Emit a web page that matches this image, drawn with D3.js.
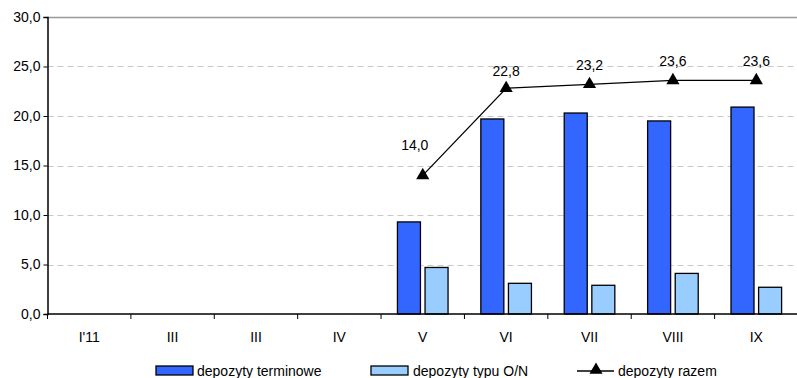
<!DOCTYPE html>
<html><head><meta charset="utf-8">
<script src="https://cdn.jsdelivr.net/npm/d3@7"></script>
<style>body{margin:0;background:#fff}svg{display:block}text{font-family:"Liberation Sans",Arial,sans-serif;fill:#000}</style>
</head><body><svg id="c" width="797" height="378"></svg>
<script>
const categories = ["I'11","III","III","IV","V","VI","VII","VIII","IX"];
const terminowe = [null,null,null,null,9.3,19.7,20.3,19.5,20.9];
const typuON = [null,null,null,null,4.7,3.1,2.9,4.1,2.7];
const razem = [null,null,null,null,14.0,22.8,23.2,23.6,23.6];
const yTicks = [0,5,10,15,20,25,30];
const seriesNames = ["depozyty terminowe","depozyty typu O/N","depozyty razem"];

const FS = 14;
const svg = d3.select("#c");
const L=47.5, R=798, T=17, B=314;
const x = d3.scaleBand().domain(d3.range(categories.length)).range([L,R]).padding(0);
const y = d3.scaleLinear().domain([0,30]).range([B,T]);
const fmt = v => d3.format(".1f")(v).replace(".",",");

// gridlines
svg.append("g").selectAll("line").data(yTicks.filter(t=>t>0)).join("line")
  .attr("x1",L).attr("x2",797).attr("y1",d=>Math.round(y(d))+0.5).attr("y2",d=>Math.round(y(d))+0.5)
  .attr("stroke",d=>d===30?"#999":"#c8c8c8").attr("stroke-width",d=>d===30?1.5:1)
  .attr("stroke-dasharray",d=>d===30?null:"6,4");

// y axis
const ya = svg.append("g").attr("transform",`translate(${L},0)`)
  .call(d3.axisLeft(y).tickValues(yTicks).tickFormat(fmt).tickSize(4).tickPadding(3));
ya.select(".domain").attr("stroke","#000").attr("stroke-width",1.5);
ya.selectAll(".tick line").attr("stroke","#000");
ya.selectAll("text").attr("font-size",FS).style("font-family","Liberation Sans, Arial, sans-serif");

// bars
const bw = 23;
const bars = svg.append("g");
bars.selectAll("rect.t").data(terminowe.map((v,i)=>({v,i})).filter(d=>d.v!=null)).join("rect")
  .attr("x",d=>x(d.i)+x.bandwidth()/2-bw-2.3).attr("width",bw)
  .attr("y",d=>y(d.v)).attr("height",d=>y(0)-y(d.v))
  .attr("fill","#3366ff").attr("stroke","#000").attr("stroke-width",1.3);
bars.selectAll("rect.o").data(typuON.map((v,i)=>({v,i})).filter(d=>d.v!=null)).join("rect")
  .attr("x",d=>x(d.i)+x.bandwidth()/2+2.3).attr("width",bw)
  .attr("y",d=>y(d.v)).attr("height",d=>y(0)-y(d.v))
  .attr("fill","#99ccff").attr("stroke","#000").attr("stroke-width",1.3);

// x axis
const xa = svg.append("g").attr("transform",`translate(0,${B})`);
xa.append("line").attr("x1",L).attr("x2",797).attr("stroke","#000").attr("stroke-width",1.5);
xa.selectAll("line.tk").data(d3.range(categories.length)).join("line")
  .attr("x1",d=>x(d)).attr("x2",d=>x(d)).attr("y1",0).attr("y2",5).attr("stroke","#000");
xa.selectAll("text").data(categories).join("text")
  .attr("x",(d,i)=>x(i)+x.bandwidth()/2).attr("y",28).attr("text-anchor","middle")
  .attr("font-size",FS).text(d=>d);

// line
const pts = razem.map((v,i)=>({v,i})).filter(d=>d.v!=null);
const cx = d => x(d.i)+x.bandwidth()/2;
svg.append("path").datum(pts)
  .attr("d",d3.line().x(cx).y(d=>y(d.v)))
  .attr("fill","none").attr("stroke","#000").attr("stroke-width",1.3);
const tri = d3.symbol().type(d3.symbolTriangle).size(75);
svg.append("g").selectAll("path").data(pts).join("path")
  .attr("transform",d=>`translate(${cx(d)},${y(d.v)})`).attr("d",tri).attr("fill","#000");
svg.append("g").selectAll("text").data(pts).join("text")
  .attr("x",d=>cx(d)+(d.i===4?-8:0))
  .attr("y",d=>y(d.v)-(d.i===4?25:(d.i===5?12:14)))
  .attr("text-anchor","middle").attr("font-size",FS).text(d=>fmt(d.v));

// legend
const lg = svg.append("g").attr("transform","translate(0,371)");
lg.append("rect").attr("x",156).attr("y",-5).attr("width",37).attr("height",9).attr("fill","#3366ff").attr("stroke","#000").attr("stroke-width",1.3);
lg.append("text").attr("x",197).attr("y",5).attr("font-size",FS).text(seriesNames[0]);
lg.append("rect").attr("x",371).attr("y",-5).attr("width",37).attr("height",9).attr("fill","#99ccff").attr("stroke","#000").attr("stroke-width",1.3);
lg.append("text").attr("x",413).attr("y",5).attr("font-size",FS).text(seriesNames[1]);
lg.append("line").attr("x1",577).attr("x2",614).attr("y1",0).attr("y2",0).attr("stroke","#000").attr("stroke-width",1.3);
lg.append("path").attr("transform","translate(596,-1)").attr("d",tri).attr("fill","#000");
lg.append("text").attr("x",618).attr("y",5).attr("font-size",FS).text(seriesNames[2]);
</script></body></html>
